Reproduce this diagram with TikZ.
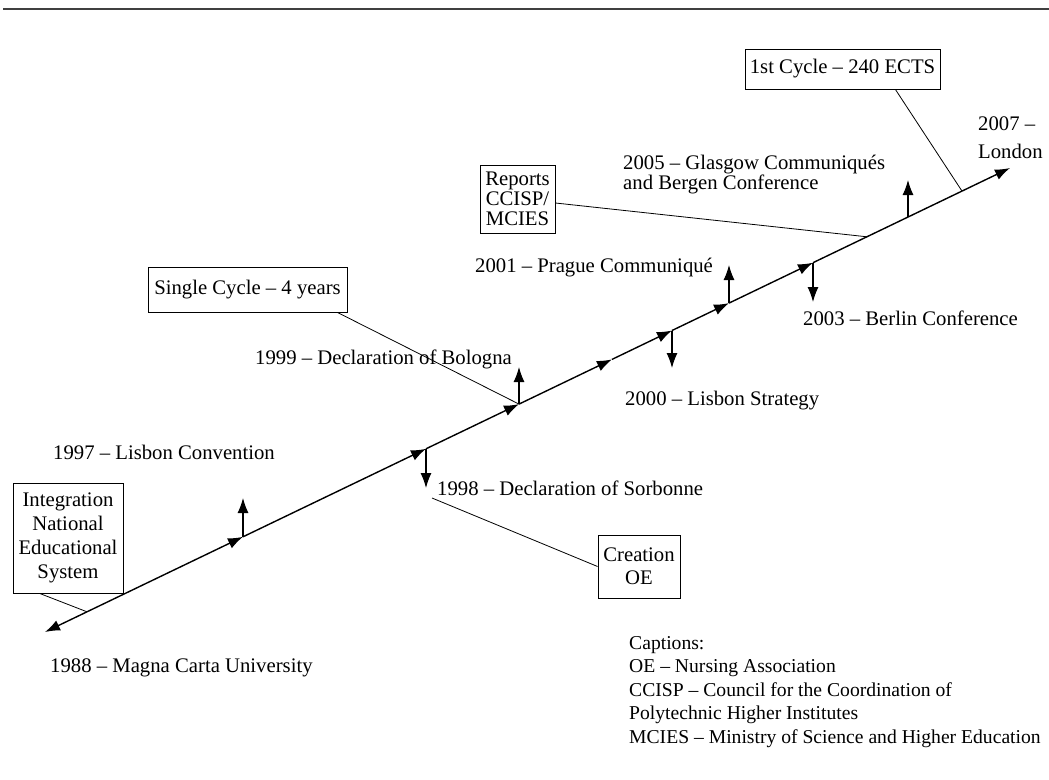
\documentclass[tikz,border=0pt]{standalone}
\usepackage{fontspec}
\setmainfont{Liberation Serif}
\usetikzlibrary{arrows.meta,calc}
\newcommand\fsz{\fontsize{20.8}{24}\selectfont}
\tikzset{
  lbl/.style={anchor=base west, inner sep=0pt, font=\fsz},
  box/.style={draw, line width=0.9bp, align=center, inner sep=0pt, font=\fsz},
  mainseg/.style={line width=1.4bp, -{Latex[length=15bp,width=11bp]}},
  evarrow/.style={line width=1.1bp, -{Latex[length=15bp,width=11bp]}},
  conn/.style={line width=0.8bp},
}
\begin{document}
\begin{tikzpicture}[x=1bp,y=-1bp]
\useasboundingbox (0,0) rectangle (1049,780);
% top rule
\draw[line width=1.6bp, black!75] (3,9) -- (1049,9);

% points on the main time line
\coordinate (p0) at (45,632);
\coordinate (p1) at (243,536.8);
\coordinate (p2) at (426,448.8);
\coordinate (p3) at (519,404.1);
\coordinate (p4) at (612,359.4);
\coordinate (p5) at (672,330.5);
\coordinate (p6) at (729,303.1);
\coordinate (p7) at (813,262.7);
\coordinate (pg) at (908,217.1);
\coordinate (p8) at (1010,168);
\coordinate (c1) at (87,611.8);
\coordinate (c2) at (867,236.8);
\coordinate (c3) at (962,191.1);

% event arrow ends
\coordinate (e1) at (243,498);
\coordinate (e2) at (426,488);
\coordinate (e3) at (519,367);
\coordinate (e5) at (672,368);
\coordinate (e6) at (729,265);
\coordinate (e7) at (813,302);
\coordinate (eg) at (908,180);
\coordinate (s1998) at (432,498);

% main line
\draw[line width=1.4bp, {Latex[length=15bp,width=11bp]}-{Latex[length=15bp,width=11bp]}] (p0) -- (p1);
\draw[mainseg] (p1) -- (p2);
\draw[mainseg] (p2) -- (p3);
\draw[mainseg] (p3) -- (p4);
\draw[mainseg] (p4) -- (p5);
\draw[mainseg] (p5) -- (p6);
\draw[mainseg] (p6) -- (p7);
\draw[mainseg] (p7) -- (p8);

% event arrows
\draw[evarrow] (p1) -- (e1);
\draw[evarrow] (p2) -- (e2);
\draw[evarrow] (p3) -- (e3);
\draw[evarrow] (p5) -- (e5);
\draw[evarrow] (p6) -- (e6);
\draw[evarrow] (p7) -- (e7);
\draw[evarrow] (pg) -- (eg);

% boxes
\node[box, minimum width=110bp, minimum height=110bp] (integ) at (68,538) {Integration\\National\\Educational\\System};
\node[box, minimum width=199bp, minimum height=45bp] (single) at (247.5,289.5) {Single Cycle – 4 years};
\node[box, minimum width=75bp, minimum height=68bp, font=\fontsize{20.8}{20}\selectfont] (reports) at (517.5,199) {Reports\\CCISP/\\MCIES};
\node[box, minimum width=82bp, minimum height=63bp, font=\fontsize{20.8}{23}\selectfont] (creation) at (639,566.5) {Creation\\OE};
\node[box, minimum width=195bp, minimum height=40bp] (first) at (842.5,69) {1st Cycle – 240 ECTS};

% connectors
\draw[conn] ($(integ.south west)!0.245!(integ.south east)$) -- (c1);
\draw[conn] ($(single.south west)!0.95!(single.south east)$) -- (p3);
\draw[conn] ($(reports.east)+(0,4)$) -- (c2);
\draw[conn] (s1998) -- (creation.west);
\draw[conn] ($(first.south west)!0.77!(first.south east)$) -- (c3);

% labels
\node[lbl] (l1997) at (53,459) {1997 – Lisbon Convention};
\node[lbl] (l1988) at (50,672) {1988 – Magna Carta University};
\node[lbl] (l1998) at (437,495) {1998 – Declaration of Sorbonne};
\node[lbl] (l1999) at (255,364) {1999 – Declaration of Bologna};
\node[lbl] (l2000) at (625,405) {2000 – Lisbon Strategy};
\node[lbl] (l2001) at (475,272) {2001 – Prague Communiqué};
\node[lbl] (l2003) at (803,325) {2003 – Berlin Conference};
\node[lbl] (l2005) at (623,169) {\fontsize{20.8}{21}\selectfont\vtop{\hbox{2005 – Glasgow Communiqués}\hbox{and Bergen Conference}}};
\node[lbl] (l2007) at (978,130) {\fontsize{20.8}{29}\selectfont\vtop{\hbox{2007 –}\hbox{London}}};
\node[lbl] (capt) at (629,649) {\fontsize{19.7}{23.75}\selectfont\vtop{\hbox{Captions:}\hbox{OE – Nursing Association}\hbox{CCISP – Council for the Coordination of}\hbox{Polytechnic Higher Institutes}\hbox{MCIES – Ministry of Science and Higher Education}}};
\end{tikzpicture}
\end{document}
